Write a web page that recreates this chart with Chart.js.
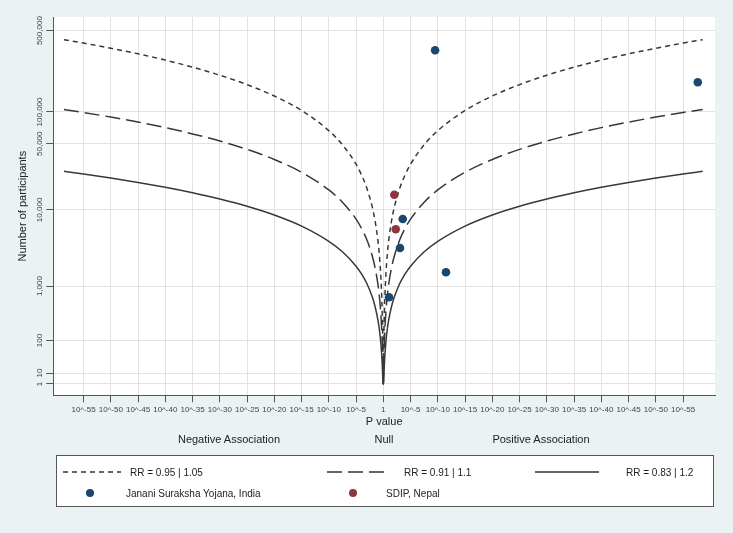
<!DOCTYPE html>
<html>
<head>
<meta charset="utf-8">
<script src="https://cdn.jsdelivr.net/npm/chart.js@4.4.1/dist/chart.umd.min.js"></script>
<style>
html, body { margin: 0; padding: 0; background: #eaf2f3; }
#wrap { position: relative; width: 733px; height: 533px; font-family: "Liberation Sans", Arial, sans-serif; color: #222; }
canvas { position: absolute; left: 0; top: 0; }
.lbl { position: absolute; font-size: 11px; transform: translate(-50%, -50%); white-space: nowrap; }
#legend { position: absolute; left: 56px; top: 455px; width: 656px; height: 50px; background: #fff; border: 1px solid #555; }
.item { position: absolute; font-size: 10px; white-space: nowrap; transform: translateY(-50%); }
.sample { position: absolute; transform: translateY(-50%); }
.dot { position: absolute; width: 8px; height: 8px; border-radius: 50%; transform: translate(-50%, -50%); }
</style>
</head>
<body>
<div id="wrap">
  <canvas id="c" width="733" height="533"></canvas>
  <div class="lbl" style="left:229px;top:439px">Negative Association</div>
  <div class="lbl" style="left:384px;top:439px">Null</div>
  <div class="lbl" style="left:541px;top:439px">Positive Association</div>
  <div id="legend">
    <svg class="sample" style="left:6px;top:16px" width="58" height="4"><line x1="0" y1="2" x2="58" y2="2" stroke="#333" stroke-width="1.5" stroke-dasharray="5,4"/></svg>
    <div class="item" style="left:73px;top:16px">RR = 0.95 | 1.05</div>
    <svg class="sample" style="left:270px;top:16px" width="60" height="4"><line x1="0" y1="2" x2="60" y2="2" stroke="#333" stroke-width="1.5" stroke-dasharray="15,6"/></svg>
    <div class="item" style="left:347px;top:16px">RR = 0.91 | 1.1</div>
    <svg class="sample" style="left:478px;top:16px" width="64" height="4"><line x1="0" y1="2" x2="64" y2="2" stroke="#333" stroke-width="1.5"/></svg>
    <div class="item" style="left:569px;top:16px">RR = 0.83 | 1.2</div>
    <div class="dot" style="left:33px;top:37px;background:#1a476f"></div>
    <div class="item" style="left:69px;top:37px">Janani Suraksha Yojana, India</div>
    <div class="dot" style="left:296px;top:37px;background:#90353b"></div>
    <div class="item" style="left:329px;top:37px">SDIP, Nepal</div>
  </div>
</div>
<script>
// x = signed -log10(P): negative side = RR below 1, positive side = RR above 1
const pExp = [-58.6, -55, -50, -45, -40, -35, -30, -25, -20, -15, -10, -7.5, -5, -4, -3, -2, -1.5, -1, -0.75, -0.5, -0.3, -0.2, -0.1, -0.05,
  0,
  0.05, 0.1, 0.2, 0.3, 0.5, 0.75, 1, 1.5, 2, 3, 4, 5, 7.5, 10, 15, 20, 25, 30, 35, 40, 45, 50, 55, 58.6];

// contour sizes (number of participants) along pExp
const rr095 = [421900, 395700, 359000, 322400, 285800, 249100, 212500, 176000, 139600, 103200, 66910, 48930, 31220, 24220, 17330, 10620, 7389, 4330, 2907, 1606, 725, 369, 109, 30,
  1,
  30, 109, 369, 725, 1606, 2907, 4330, 7389, 10620, 17330, 24220, 31220, 48930, 66910, 103200, 139600, 176000, 212500, 249100, 285800, 322400, 359000, 395700, 421900];
const rr091 = [105500, 98920, 89760, 80600, 71440, 62280, 53120, 44000, 34900, 25790, 16730, 12230, 7804, 6056, 4332, 2654, 1847, 1082, 727, 402, 181, 92, 27, 7.5,
  1,
  7.5, 27, 92, 181, 402, 727, 1082, 1847, 2654, 4332, 6056, 7804, 12230, 16730, 25790, 34900, 44000, 53120, 62280, 71440, 80600, 89760, 98920, 105500];
const rr083 = [26370, 24730, 22440, 20150, 17860, 15570, 13280, 11000, 8724, 6448, 4182, 3058, 1951, 1514, 1083, 664, 462, 271, 182, 100, 45, 23, 6.8, 1.9,
  1,
  1.9, 6.8, 23, 45, 100, 182, 271, 462, 664, 1083, 1514, 1951, 3058, 4182, 6448, 8724, 11000, 13280, 15570, 17860, 20150, 22440, 24730, 26370];

// studies
const jsyP = [9.5, 57.7, 3.56, 3.06, 11.5, 1.05];
const jsyN = [345000, 184500, 7840, 3435, 1600, 665];
const sdipP = [2.02, 2.28];
const sdipN = [14830, 5900];

const xTicks = [-55, -50, -45, -40, -35, -30, -25, -20, -15, -10, -5, 0, 5, 10, 15, 20, 25, 30, 35, 40, 45, 50, 55];
const yTicks = [1, 10, 100, 1000, 10000, 50000, 100000, 500000];

// vertical scale used by the plot: signed (log10 N)^2
const tf = n => { const l = Math.log10(n); return Math.sign(l) * l * l; };
const pts = (xs, ns) => xs.map((x, i) => ({ x: x, y: tf(ns[i]) }));

const lineColor = '#383838';
const curve = (ns, dash) => ({
  data: pts(pExp, ns), showLine: true, pointRadius: 0, borderColor: lineColor,
  borderWidth: 1.5, borderDash: dash, cubicInterpolationMode: 'monotone', order: 1
});

const plotBg = {
  id: 'plotBg',
  beforeDraw(chart) {
    const { ctx, chartArea: a } = chart;
    ctx.save();
    ctx.fillStyle = '#fff';
    ctx.fillRect(a.left, a.top, a.right - a.left, a.bottom - a.top);
    ctx.restore();
  }
};

new Chart(document.getElementById('c'), {
  type: 'scatter',
  data: {
    datasets: [
      { data: pts(jsyP, jsyN), backgroundColor: '#1a476f', borderWidth: 0, pointRadius: 4.3, order: 0 },
      { data: pts(sdipP, sdipN), backgroundColor: '#90353b', borderWidth: 0, pointRadius: 4.3, order: 0 },
      curve(rr095, [5, 4]),
      curve(rr091, [15, 6]),
      curve(rr083, [])
    ]
  },
  options: {
    responsive: false,
    animation: false,
    layout: { padding: { top: 17, right: 18, bottom: 102.7, left: 0 } },
    plugins: { legend: { display: false }, tooltip: { enabled: false } },
    scales: {
      x: {
        type: 'linear', min: -60.55, max: 60.86,
        afterBuildTicks: s => { s.ticks = xTicks.map(v => ({ value: v })); },
        afterFit: s => { s.height = 35; },
        ticks: {
          autoSkip: false, maxRotation: 0, padding: 3, color: '#444',
          font: { family: 'Liberation Sans', size: 8 },
          callback: v => v === 0 ? '1' : '10^-' + Math.abs(v)
        },
        grid: { color: '#e2e2e2', tickColor: '#555', tickLength: 7 },
        border: { color: '#555' },
        title: { display: true, text: 'P value', color: '#222', font: { family: 'Liberation Sans', size: 11 }, padding: { top: 0, bottom: 2 } }
      },
      y: {
        type: 'linear', min: -1.04, max: 33.73,
        afterBuildTicks: s => { s.ticks = yTicks.map(n => ({ value: tf(n) })); },
        afterFit: s => { s.width = 53.3; },
        ticks: {
          autoSkip: false, minRotation: 90, maxRotation: 90, crossAlign: 'center', padding: -7.5, color: '#444',
          font: { family: 'Liberation Sans', size: 8 },
          callback: (v, i) => yTicks[i].toLocaleString('en-US')
        },
        grid: { color: '#e2e2e2', tickColor: '#555', tickLength: 7 },
        border: { color: '#555' },
        title: { display: true, text: 'Number of participants', color: '#222', font: { family: 'Liberation Sans', size: 11 }, padding: { top: 16, bottom: 0 } }
      }
    }
  },
  plugins: [plotBg]
});
</script>
</body>
</html>
